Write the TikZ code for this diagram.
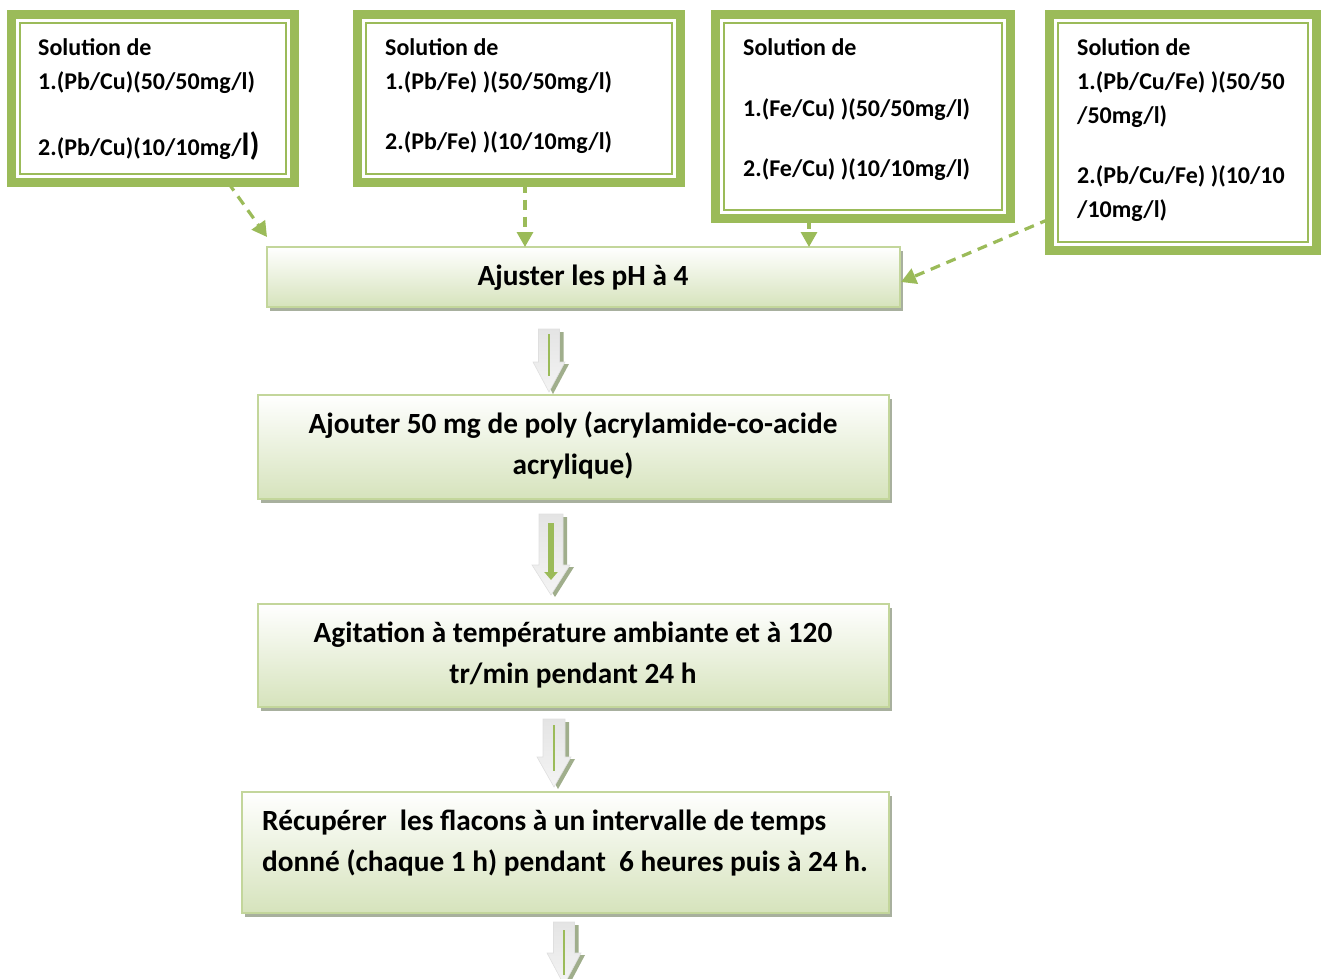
\documentclass[tikz,border=0pt]{standalone}
\usepackage{fontspec}
\setmainfont{Carlito}
\usetikzlibrary{arrows.meta,calc,shadows}
\definecolor{ogreen}{RGB}{155,187,89}
\definecolor{fborder}{RGB}{195,214,155}
\definecolor{fbottom}{RGB}{214,227,188}
\definecolor{fshadow}{RGB}{168,176,158}
\definecolor{arrtop}{RGB}{228,228,228}
\definecolor{arrbot}{RGB}{244,244,244}
\definecolor{arrshadow}{RGB}{160,174,140}
\newcommand{\innerframe}[1]{%
  \draw[ogreen,line width=2pt] ($(#1.north west)+(8.5,8.5)$) rectangle ($(#1.south east)+(-8.5,-8.5)$);}
\newcommand{\blkarrow}[6]{%
  \fill[arrshadow] ({#1-#5+4},{#2+3}) -- ({#1+#5+4},{#2+3}) -- ({#1+#5+4},{#3+2}) -- ({#1+#6+4},{#3+2}) -- ({#1+4},{#4+2}) -- ({#1-#6+4},{#3+2}) -- ({#1-#5+4},{#3+2}) -- cycle;
  \path[top color=arrtop,bottom color=arrbot,draw=gray!25,line width=0.6pt] ({#1-#5},{#2}) -- ({#1+#5},{#2}) -- ({#1+#5},{#3}) -- ({#1+#6},{#3}) -- ({#1},{#4}) -- ({#1-#6},{#3}) -- ({#1-#5},{#3}) -- cycle;}
\begin{document}
\begin{tikzpicture}[x=1pt,y=-1pt,
  solbox/.style={draw=ogreen,line width=9pt,rectangle,inner sep=0pt,outer sep=0pt,fill=white},
  flowbox/.style={draw=fborder,line width=2pt,rectangle,inner sep=0pt,outer sep=0pt,top color=white,bottom color=fbottom,
     general shadow={shadow xshift=3pt,shadow yshift=-4pt,fill=fshadow}},
  soltext/.style={anchor=base west,inner sep=0pt,font=\fontsize{24}{28}\selectfont\bfseries},
  flowtext/.style={anchor=base,inner sep=0pt,font=\fontsize{29.3}{34}\selectfont\bfseries},
  conn/.style={draw=ogreen,line width=3.2pt,dash pattern=on 10pt off 7pt,-{Triangle[length=15pt,width=16pt]}},
  gline/.style={draw=ogreen,line width=1.8pt}]
\useasboundingbox (0,0) rectangle (1325,978);

% solution boxes
\node[solbox,minimum width=283pt,minimum height=168pt] (b1) at (153,98.5) {};
\innerframe{b1}
\node[solbox,minimum width=323pt,minimum height=168pt] (b2) at (519,98.5) {};
\innerframe{b2}
\node[solbox,minimum width=295pt,minimum height=204pt] (b3) at (863,116.5) {};
\innerframe{b3}
\node[solbox,minimum width=267pt,minimum height=236pt] (b4) at (1183,132.5) {};
\innerframe{b4}

\node[soltext] (t1a) at (38,55) {Solution de};
\node[soltext] (t1b) at (38,89) {1.(Pb/Cu)(50/50mg/l)};
\node[soltext] (t1c) at (38,155) {2.(Pb/Cu)(10/10mg/{\fontsize{32}{36}\selectfont l)}};

\node[soltext] (t2a) at (385,55) {Solution de};
\node[soltext] (t2b) at (385,89) {1.(Pb/Fe) )(50/50mg/l)};
\node[soltext] (t2c) at (385,149) {2.(Pb/Fe) )(10/10mg/l)};

\node[soltext] (t3a) at (743,55) {Solution de};
\node[soltext] (t3b) at (743,116) {1.(Fe/Cu) )(50/50mg/l)};
\node[soltext] (t3c) at (743,176) {2.(Fe/Cu) )(10/10mg/l)};

\node[soltext] (t4a) at (1077,55) {Solution de};
\node[soltext] (t4b) at (1077,89) {1.(Pb/Cu/Fe) )(50/50};
\node[soltext] (t4c) at (1077,123) {/50mg/l)};
\node[soltext] (t4d) at (1077,183) {2.(Pb/Cu/Fe) )(10/10};
\node[soltext] (t4e) at (1077,217) {/10mg/l)};

% flow boxes
\node[flowbox,minimum width=633pt,minimum height=60pt] (f1) at (583.5,277) {};
\node[flowtext] (f1t) at (583,285) {Ajuster les pH à 4};

\node[flowbox,minimum width=631pt,minimum height=104pt] (f2) at (573.5,447) {};
\node[flowtext] (f2a) at (573,433) {Ajouter 50 mg de poly (acrylamide-co-acide};
\node[flowtext] (f2b) at (573,474) {acrylique)};

\node[flowbox,minimum width=631pt,minimum height=103pt] (f3) at (573.5,655.5) {};
\node[flowtext] (f3a) at (573,642) {Agitation à température ambiante et à 120};
\node[flowtext] (f3b) at (573,683) {tr/min pendant 24 h};

\node[flowbox,minimum width=647pt,minimum height=121pt] (f4) at (565.5,852.5) {};
\node[flowtext,anchor=base west] (f4a) at (262,830) {Récupérer~ les flacons à un intervalle de temps};
\node[flowtext,anchor=base west] (f4b) at (262,871) {donné (chaque 1 h) pendant~ 6 heures puis à 24 h.};

% dashed connectors
\draw[conn] ($(b1.south west)+(216.5,0)$) -- ($(f1.north west)+(0,-10)$);
\path ([shift={(6,0)}]b2.south) coordinate (c2s);
\draw[conn] (c2s) -- (c2s |- f1.north);
\path ([shift={(-54,0)}]b3.south) coordinate (c3s);
\draw[conn] (c3s) -- (c3s |- f1.north);
\draw[conn] ([shift={(0,86.5)}]b4.west) -- ([shift={(1,5)}]f1.east);

% block arrows
\blkarrow{549}{329}{362}{392}{10.5}{16}
\draw[gline] (549,334) -- (549,376);
\blkarrow{551}{514}{565}{595}{12}{19}
\draw[draw=ogreen,line width=6pt,-{Triangle[length=8pt,width=13pt]}] (551,523) -- (551,580);
\blkarrow{554}{719}{757}{787}{11}{17}
\draw[gline] (554,725) -- (554,771);
\blkarrow{564}{922}{953}{985}{10.5}{17}
\draw[gline] (564,930) -- (564,975);
\end{tikzpicture}
\end{document}
